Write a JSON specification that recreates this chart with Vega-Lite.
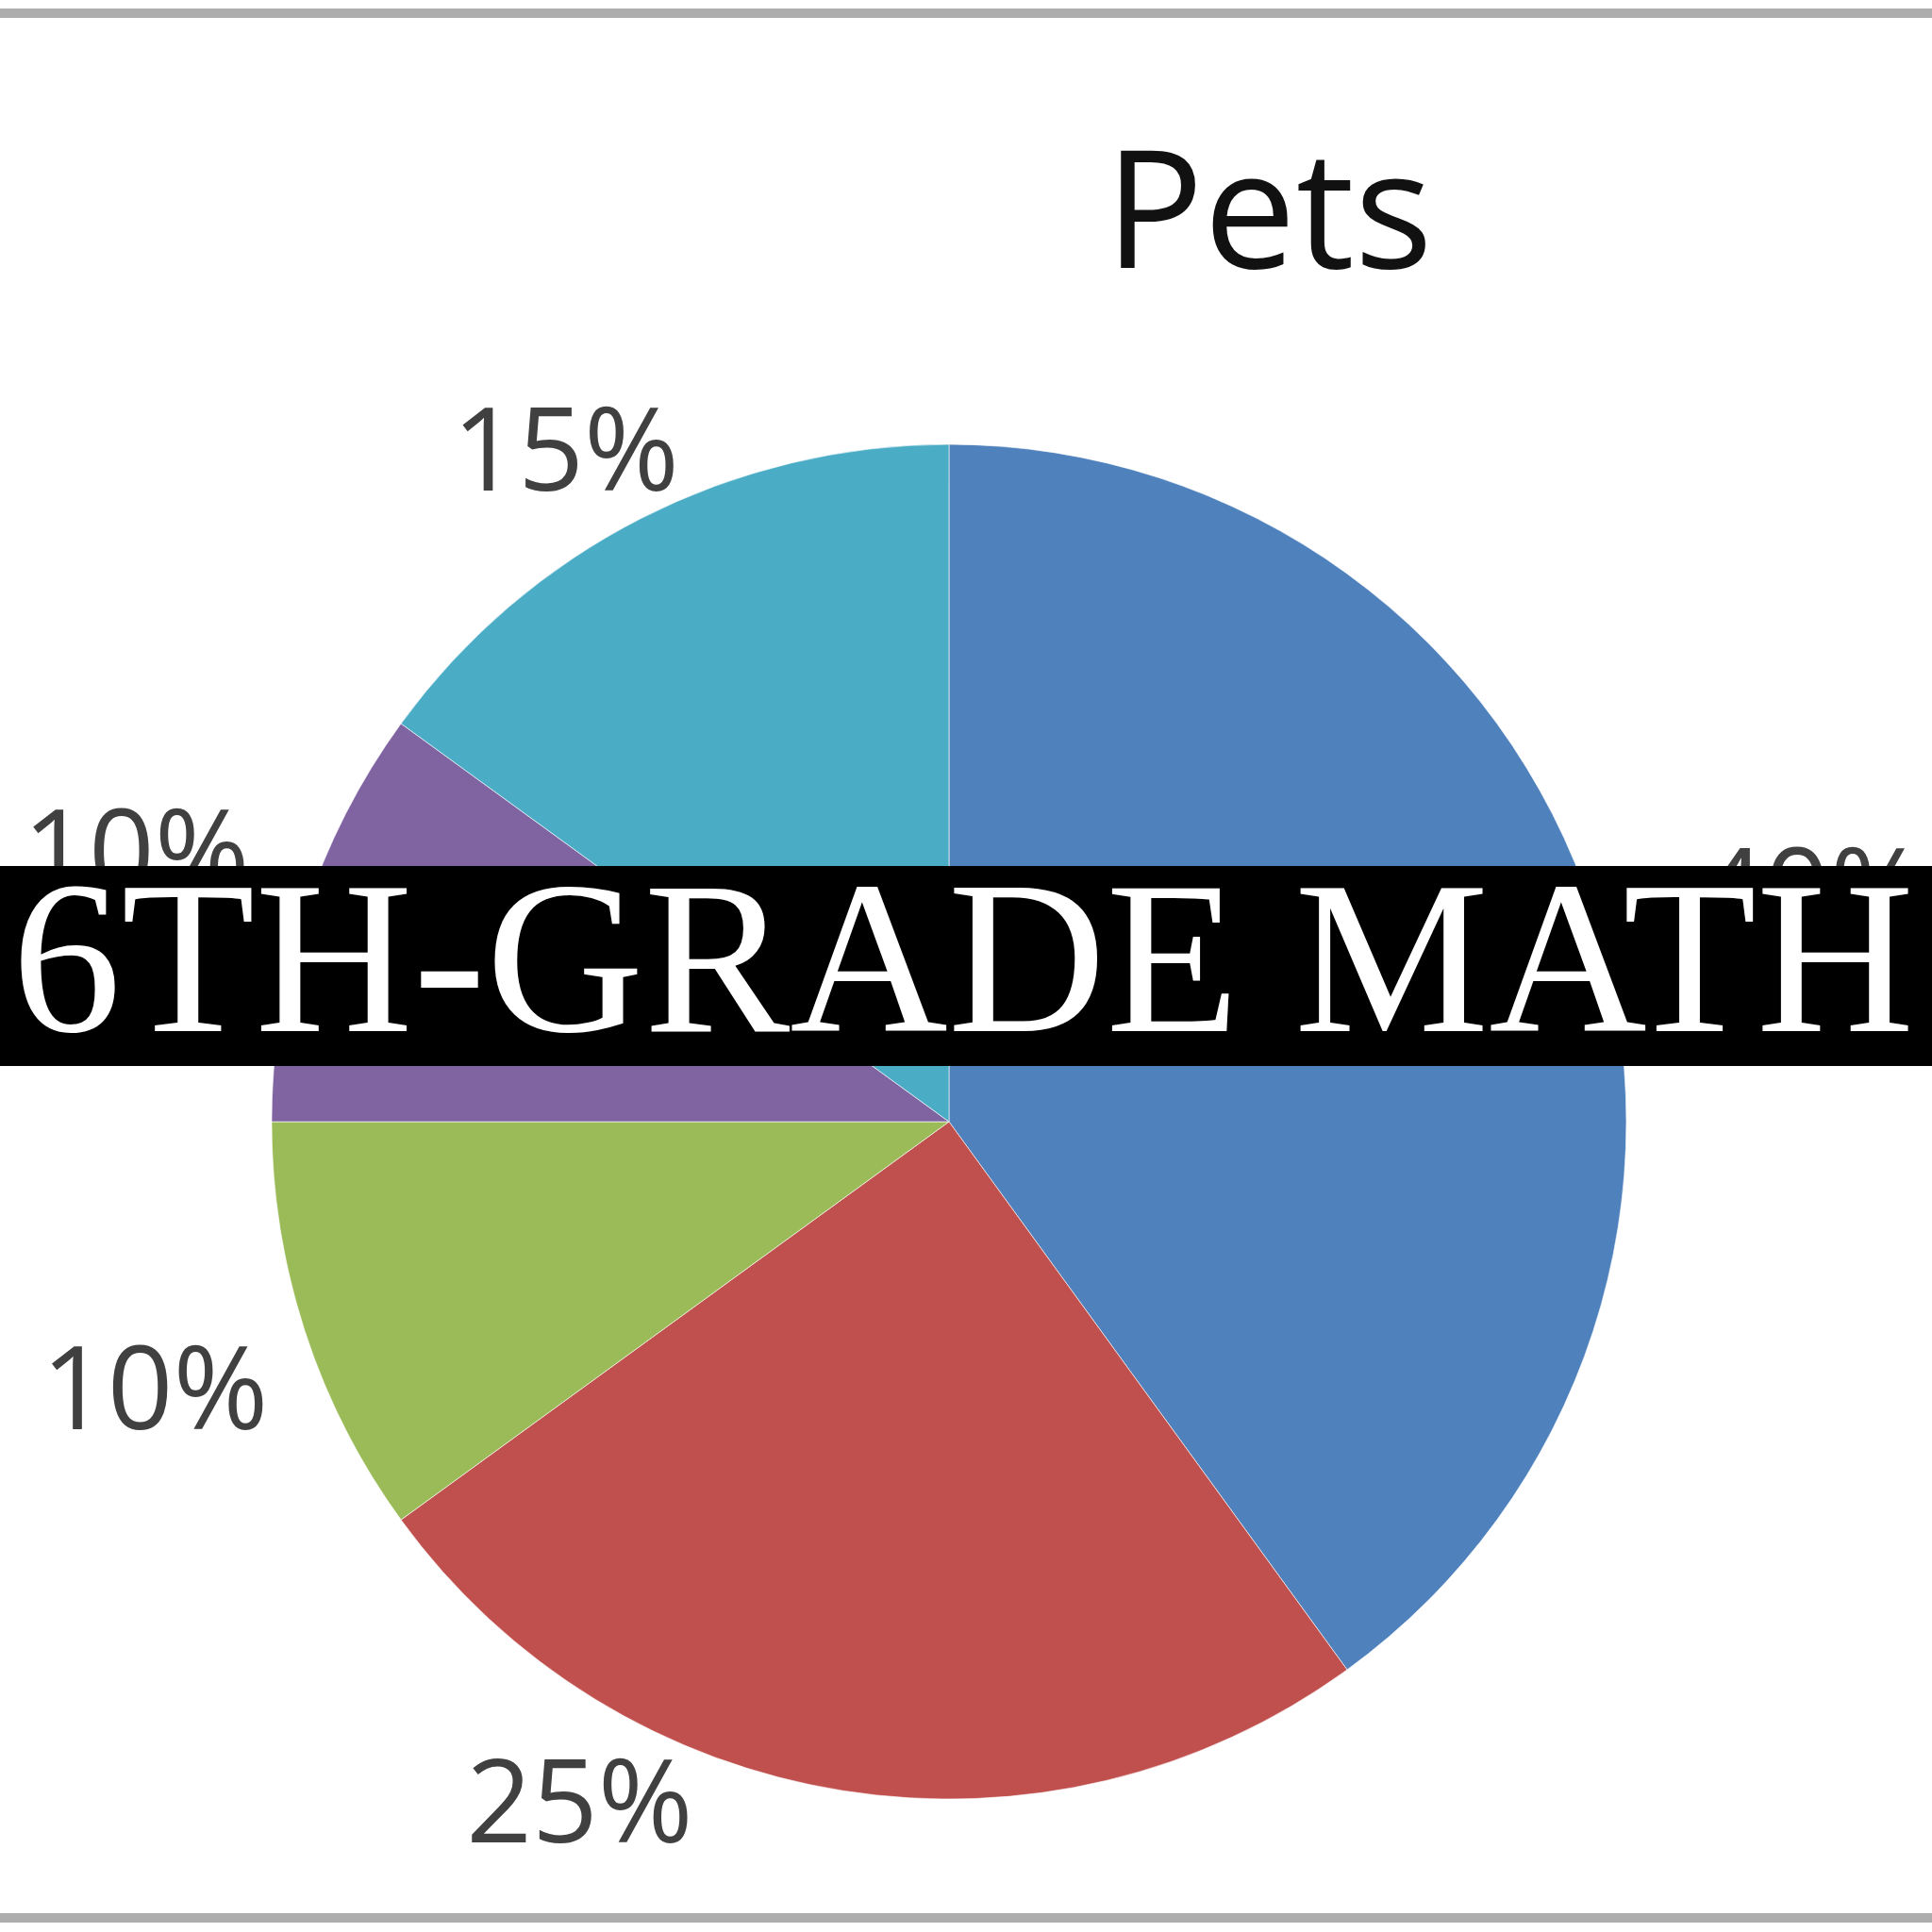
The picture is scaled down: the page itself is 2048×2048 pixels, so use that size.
{
  "$schema": "https://vega.github.io/schema/vega-lite/v6.json",
  "width": 2048,
  "height": 2048,
  "autosize": {"type": "none"},
  "padding": 0,
  "background": "white",
  "config": {"view": {"stroke": null}},
  "datasets": {
    "pets": [
      {"slice": 1, "share": 0.40},
      {"slice": 2, "share": 0.25},
      {"slice": 3, "share": 0.10},
      {"slice": 4, "share": 0.10},
      {"slice": 5, "share": 0.15}
    ],
    "title": [{"text": "Pets"}],
    "banner": [{"text": "6TH-GRADE MATH"}]
  },
  "layer": [
    {
      "data": {"name": "pets"},
      "encoding": {
        "theta": {"field": "share", "type": "quantitative", "stack": true},
        "order": {"field": "slice", "type": "quantitative"},
        "detail": {"field": "slice", "type": "nominal"},
        "x": {"datum": 0.4912, "type": "quantitative", "scale": {"domain": [0, 1], "nice": false, "zero": false}, "axis": null},
        "y": {"datum": 0.5806, "type": "quantitative", "scale": {"domain": [0, 1], "nice": false, "zero": false, "reverse": true}, "axis": null}
      },
      "layer": [
        {
          "mark": {"type": "arc", "radius": 718, "stroke": "#ffffff", "strokeWidth": 1, "strokeOpacity": 0.6},
          "encoding": {
            "color": {
              "field": "slice", "type": "nominal", "legend": null,
              "scale": {"domain": [1, 2, 3, 4, 5], "range": ["#4F81BD", "#C0504D", "#9BBB59", "#8064A2", "#4BACC6"]}
            }
          }
        },
        {
          "mark": {"type": "text", "radius": 823, "thetaOffset": -0.045, "dy": 10, "font": "Open Sans", "fontSize": 122, "fill": "#404040", "align": "center", "baseline": "middle"},
          "encoding": {
            "text": {"field": "share", "type": "quantitative", "format": ".0%"},
            "opacity": {"condition": {"test": "datum.slice === 5", "value": 1}, "value": 0}
          }
        },
        {
          "mark": {"type": "text", "radius": 818, "thetaOffset": 0.342, "dy": 9, "font": "Open Sans", "fontSize": 122, "fill": "#404040", "align": "center", "baseline": "middle"},
          "encoding": {
            "text": {"field": "share", "type": "quantitative", "format": ".0%"},
            "opacity": {"condition": {"test": "datum.slice === 2", "value": 1}, "value": 0}
          }
        },
        {
          "mark": {"type": "text", "radius": 885, "dy": 15, "font": "Open Sans", "fontSize": 122, "fill": "#404040", "align": "center", "baseline": "middle"},
          "encoding": {
            "text": {"field": "share", "type": "quantitative", "format": ".0%"},
            "opacity": {"condition": {"test": "datum.slice === 3", "value": 1}, "value": 0}
          }
        },
        {
          "mark": {"type": "text", "radius": 906, "font": "Open Sans", "fontSize": 122, "fill": "#404040", "align": "center", "baseline": "middle"},
          "encoding": {
            "text": {"field": "share", "type": "quantitative", "format": ".0%"},
            "opacity": {"condition": {"test": "datum.slice === 4", "value": 1}, "value": 0}
          }
        },
        {
          "mark": {"type": "text", "radius": 947, "thetaOffset": 0.052, "dy": 6, "font": "Open Sans", "fontSize": 122, "fill": "#404040", "align": "center", "baseline": "middle"},
          "encoding": {
            "text": {"field": "share", "type": "quantitative", "format": ".0%"},
            "opacity": {"condition": {"test": "datum.slice === 1", "value": 1}, "value": 0}
          }
        }
      ]
    },
    {
      "data": {"name": "title"},
      "mark": {"type": "text", "font": "Open Sans", "fontSize": 174, "fill": "#111111", "align": "center", "baseline": "alphabetic"},
      "encoding": {
        "text": {"field": "text", "type": "nominal"},
        "x": {"datum": 0.6567, "type": "quantitative", "scale": {"domain": [0, 1], "nice": false, "zero": false}, "axis": null},
        "y": {"datum": 0.1385, "type": "quantitative", "scale": {"domain": [0, 1], "nice": false, "zero": false, "reverse": true}, "axis": null}
      }
    },
    {
      "data": {"name": "banner"},
      "mark": {"type": "rect", "fill": "#000000"},
      "encoding": {
        "x": {"datum": 0, "type": "quantitative", "scale": {"domain": [0, 1], "nice": false, "zero": false}, "axis": null},
        "x2": {"datum": 1},
        "y": {"datum": 0.4482, "type": "quantitative", "scale": {"domain": [0, 1], "nice": false, "zero": false, "reverse": true}, "axis": null},
        "y2": {"datum": 0.5518}
      }
    },
    {
      "data": {"name": "banner"},
      "mark": {"type": "text", "font": "Liberation Serif", "fontSize": 232, "fill": "#ffffff", "align": "center", "baseline": "alphabetic"},
      "encoding": {
        "text": {"field": "text", "type": "nominal"},
        "x": {"datum": 0.4985, "type": "quantitative", "scale": {"domain": [0, 1], "nice": false, "zero": false}, "axis": null},
        "y": {"datum": 0.5337, "type": "quantitative", "scale": {"domain": [0, 1], "nice": false, "zero": false, "reverse": true}, "axis": null}
      }
    },
    {
      "data": {"name": "banner"},
      "mark": {"type": "rule", "stroke": "#adadad", "strokeWidth": 10},
      "encoding": {
        "x": {"datum": 0, "type": "quantitative", "scale": {"domain": [0, 1], "nice": false, "zero": false}, "axis": null},
        "x2": {"datum": 1},
        "y": {"datum": 0.00684, "type": "quantitative", "scale": {"domain": [0, 1], "nice": false, "zero": false, "reverse": true}, "axis": null}
      }
    },
    {
      "data": {"name": "banner"},
      "mark": {"type": "rule", "stroke": "#adadad", "strokeWidth": 10},
      "encoding": {
        "x": {"datum": 0, "type": "quantitative", "scale": {"domain": [0, 1], "nice": false, "zero": false}, "axis": null},
        "x2": {"datum": 1},
        "y": {"datum": 0.9927, "type": "quantitative", "scale": {"domain": [0, 1], "nice": false, "zero": false, "reverse": true}, "axis": null}
      }
    }
  ]
}
